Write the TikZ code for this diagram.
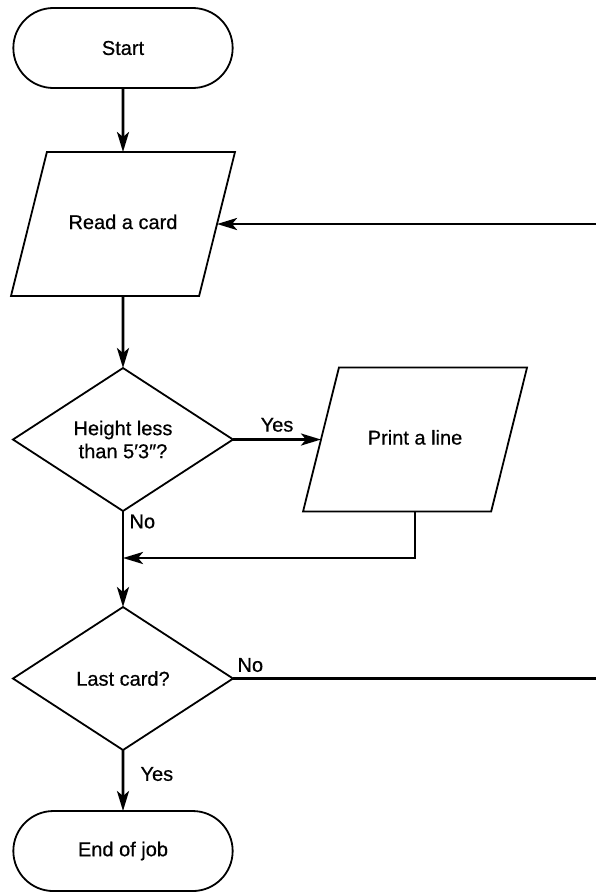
\documentclass[tikz,border=0pt]{standalone}
\usepackage{fontspec}
\setmainfont{Liberation Sans}[FakeBold=0.6]
\usetikzlibrary{arrows.meta,positioning,shapes.geometric,shapes.misc}

\begin{document}
\begin{tikzpicture}[x=1pt, y=-1pt,
        font=\fontsize{20}{23}\selectfont,
        outline/.style={draw, line width=1.8pt, outer sep=0pt},
        terminal/.style={outline, rounded rectangle, minimum width=226pt, minimum height=80pt},
        io/.style={outline, trapezium, trapezium left angle=76, trapezium right angle=104,
            trapezium stretches body, text height=14pt, text depth=4pt, inner ysep=63pt,
            minimum width=224pt},
        decision/.style={outline, diamond, aspect=1.54, inner sep=0pt, align=center,
            minimum width=220pt, minimum height=143pt},
        wire/.style={line width=2.8pt},
        flow/.style={wire, -{Stealth[length=20pt, width=12pt, inset=5pt]}}]
        \useasboundingbox (0,0) rectangle (596,892);

        \node [terminal] (start) at (123,48) {Start};
        \node [io, below = 64pt of start] (read) {Read a card};
        \node [decision, below = 72pt of read] (check) {Height less\\than 5′3″?};
        \node [io, right = 88pt of check] (print) {Print a line};
        \node [decision, below = 96pt of check] (last) {Last card?};
        \node [terminal, below = 61pt of last] (stop) {End of job};

        \coordinate (rim) at (596,0);
        \coordinate (join) at (123,558);

        \draw[flow] (start) -- (read);
        \draw[flow] (read) -- (check);
        \draw[flow] (check.east) -- node[above=3pt] (yes1) {Yes} (print.west);
        \draw[flow] (check) -- (last);
        \draw[flow] (print.center |- print.south) |- (join);
        \draw[flow] (last) -- (stop);
        \draw[flow] (read.east -| rim) -- (read.east);
        \draw[wire] (last.east) -- (last.east -| rim);

        \node [below right = 0pt and 3pt of check.south] (no1) {No};
        \node [above right = 3pt and 1pt of last.east] (no2) {No};
        \node [right = 14pt of last.south, yshift=-24pt] (yes2) {Yes};
\end{tikzpicture}
\end{document}
